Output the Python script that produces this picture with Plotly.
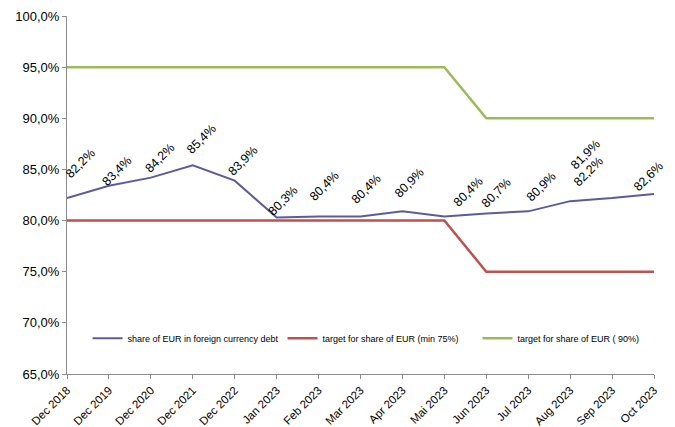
import plotly.graph_objects as go

# Reporting periods on the x axis
categories = [
    "Dec 2018", "Dec 2019", "Dec 2020", "Dec 2021", "Dec 2022",
    "Jan 2023", "Feb 2023", "Mar 2023", "Apr 2023", "Mai 2023",
    "Jun 2023", "Jul 2023", "Aug 2023", "Sep 2023", "Oct 2023",
]

# Share of EUR in foreign currency debt, in percent
eur_share = [82.2, 83.4, 84.2, 85.4, 83.9, 80.3, 80.4, 80.4, 80.9, 80.4,
             80.7, 80.9, 81.9, 82.2, 82.6]

# Strategy targets, in percent
target_min = [80, 80, 80, 80, 80, 80, 80, 80, 80, 80, 75, 75, 75, 75, 75]
target_max = [95, 95, 95, 95, 95, 95, 95, 95, 95, 95, 90, 90, 90, 90, 90]

series_names = [
    "share of EUR in foreign currency debt",
    "target for share of EUR (min 75%)",
    "target for share of EUR ( 90%)",
]

FONT = "Liberation Sans, Arial, sans-serif"
AXIS_GREY = "#8c8c8c"

fig = go.Figure()
fig.add_trace(go.Scatter(x=categories, y=eur_share, mode="lines",
                         name=series_names[0],
                         line=dict(color="#5b5b9f", width=2)))
fig.add_trace(go.Scatter(x=categories, y=target_min, mode="lines",
                         name=series_names[1],
                         line=dict(color="#c0504d", width=2.5)))
fig.add_trace(go.Scatter(x=categories, y=target_max, mode="lines",
                         name=series_names[2],
                         line=dict(color="#9bbb59", width=2.5)))

# Pixel offsets of each rotated value label relative to its point
label_dx = [13, 8, 9, 9, 8, 6, 6, 6, 7, 24, 10, 13, 15, -24, -6]
label_dy = [34, 15, 20, 26, 20, 17, 30, 27, 28, 24, 20, 24, 46, 26, 17]

for i, (cat, val) in enumerate(zip(categories, eur_share)):
    fig.add_annotation(
        x=cat, y=val,
        text=f"{val:.1f}".replace(".", ",") + "%",
        showarrow=False, textangle=-45,
        xanchor="center", yanchor="middle",
        xshift=label_dx[i], yshift=label_dy[i],
        font=dict(family=FONT, size=12.5, color="#000000"),
    )

fig.update_layout(
    width=675, height=427,
    margin=dict(l=67, r=21, t=16, b=53, autoexpand=False),
    paper_bgcolor="white", plot_bgcolor="white",
    separators=",.",
    font=dict(family=FONT, size=12, color="#000000"),
    showlegend=True,
    legend=dict(
        orientation="h",
        x=0.035, y=0.1, xanchor="left", yanchor="middle",
        bgcolor="rgba(0,0,0,0)",
        font=dict(family=FONT, size=9, color="#000000"),
        entrywidth=150,
        itemwidth=30,
    ),
    xaxis=dict(
        type="category", range=[0, 14],
        showgrid=False, zeroline=False,
        showline=True, linecolor=AXIS_GREY, linewidth=1,
        ticks="outside", ticklen=4, tickcolor=AXIS_GREY,
        tickangle=-45, automargin=False,
        tickfont=dict(family=FONT, size=11.5),
    ),
    yaxis=dict(
        range=[65, 100], dtick=5, tick0=65,
        tickformat=".1f", ticksuffix="%",
        showgrid=False, zeroline=False,
        showline=True, linecolor=AXIS_GREY, linewidth=1,
        ticks="outside", ticklen=4, tickcolor=AXIS_GREY,
        automargin=False,
        tickfont=dict(family=FONT, size=13),
    ),
)

fig.write_html("out.html")
